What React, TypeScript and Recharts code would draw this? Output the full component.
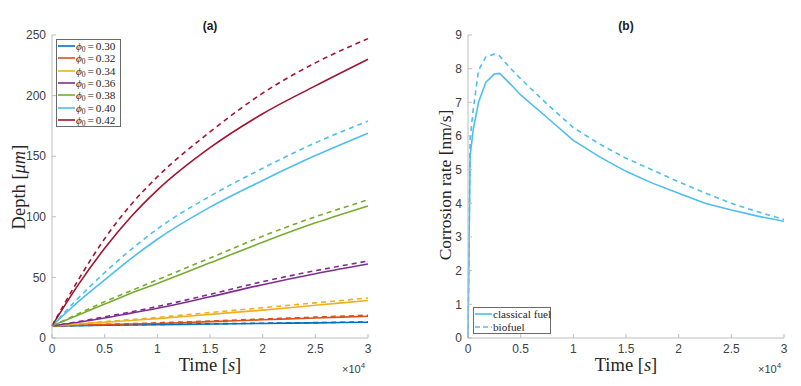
import { LineChart, Line, XAxis, YAxis, Legend, Label } from 'recharts';

// time grid (s) for the depth curves, panel (a)
const TIME_A = [0, 2500, 5000, 7500, 10000, 15000, 20000, 25000, 30000];

const PHI = ['0.30', '0.32', '0.34', '0.36', '0.38', '0.40', '0.42'];
const COLORS = ['#0072BD', '#D95319', '#EDB120', '#7E2F8E', '#77AC30', '#4DBEEE', '#A2142F'];

// depth in µm, solid = classical fuel, dashed = biofuel
const CLASSICAL_DEPTH = [
  [10, 10.25, 10.5, 10.75, 11, 11.5, 12, 12.5, 13],
  [10, 10.5, 11, 11.5, 12, 13.5, 15, 16.5, 18],
  [10, 11.5, 13, 14.5, 16, 19.5, 23, 27, 31],
  [10, 13, 16.5, 20.5, 24.5, 34, 44, 53, 61],
  [10, 19, 28, 37, 45, 62, 79, 95, 109],
  [10, 30, 48, 65.5, 81.5, 108, 130, 150.5, 169],
  [10, 44, 74, 100, 122, 157, 185, 208, 230],
];
const BIOFUEL_DEPTH = [
  [10, 10.3, 10.6, 10.9, 11.2, 11.7, 12.2, 12.7, 13.2],
  [10, 10.6, 11.2, 11.8, 12.5, 14, 15.7, 17.2, 18.8],
  [10, 11.7, 13.5, 15.2, 17, 21, 25, 29, 33],
  [10, 13.5, 17.5, 21.5, 26, 36, 46.5, 55.5, 63.5],
  [10, 20, 30, 39, 48, 66, 84, 100, 114],
  [10, 33, 54, 73, 90, 117, 140, 161, 179],
  [10, 48, 82, 110, 133, 170, 202, 227, 247],
];

// corrosion rate in nm/s, panel (b)
const TIME_B = [0, 200, 500, 1000, 1700, 2500, 3000, 4000, 5000, 7500, 10000, 12500, 15000, 17500, 20000, 22500, 25000, 27500, 30000];
const CLASSICAL_RATE = [0, 5.4, 6.2, 7.0, 7.6, 7.84, 7.86, 7.55, 7.22, 6.55, 5.87, 5.38, 4.95, 4.6, 4.3, 4.0, 3.8, 3.62, 3.47];
const BIOFUEL_RATE = [0, 5.9, 6.8, 7.95, 8.35, 8.43, 8.38, 8.02, 7.7, 6.95, 6.25, 5.76, 5.34, 4.99, 4.64, 4.31, 4.0, 3.75, 3.52];

const X_TICKS = [0, 5000, 10000, 15000, 20000, 25000, 30000];
const DEPTH_TICKS = [0, 50, 100, 150, 200, 250];
const RATE_TICKS = [0, 1, 2, 3, 4, 5, 6, 7, 8, 9];

const AXIS = '#bdbdbd';
const TICK = '#404040';
const SANS = '"Liberation Sans", Arial, sans-serif';
const SERIF = '"Liberation Serif", "DejaVu Serif", serif';

const depthData = TIME_A.map((t, i) => {
  const row: Record<string, number> = { t };
  PHI.forEach((_, k) => {
    row[`c${k}`] = CLASSICAL_DEPTH[k][i];
    row[`b${k}`] = BIOFUEL_DEPTH[k][i];
  });
  return row;
});

const rateData = TIME_B.map((t, i) => ({ t, classical: CLASSICAL_RATE[i], biofuel: BIOFUEL_RATE[i] }));

const fmtTime = (v: number) => String(v / 10000);

const tickStyle = { fill: TICK, fontSize: 12, fontFamily: SANS };

const TimeLabel = ({ cx }: { cx: number }) => (
  <text x={cx} y={371} textAnchor="middle" fontFamily={SERIF} fontSize={18.5} fill="#262626">
    Time [<tspan fontStyle="italic">s</tspan>]
  </text>
);

const Exponent = ({ left }: { left: number }) => (
  <div style={{ position: 'absolute', left, top: 361, fontFamily: SANS, fontSize: 11, color: TICK }}>
    ×10<sup style={{ fontSize: 8 }}>4</sup>
  </div>
);

const Title = ({ cx, text }: { cx: number; text: string }) => (
  <div style={{ position: 'absolute', left: cx - 20, width: 40, top: 19, textAlign: 'center', fontFamily: SANS, fontSize: 12, fontWeight: 'bold', color: '#1a1a1a' }}>
    {text}
  </div>
);

const LegendRow = ({ color, dashed, h, children }: { color: string; dashed?: boolean; h: number; children: React.ReactNode }) => (
  <div style={{ display: 'flex', alignItems: 'center', height: h, whiteSpace: 'nowrap' }}>
    <svg width={17} height={4} style={{ flexShrink: 0 }}>
      <line x1={0} y1={2} x2={17} y2={2} stroke={color} strokeWidth={1.6} strokeDasharray={dashed ? '5 3' : undefined} />
    </svg>
    <span style={{ marginLeft: 1 }}>{children}</span>
  </div>
);

const DepthLegend = () => (
  <div style={{ width: 65, height: 88, boxSizing: 'border-box', border: '1px solid #6a6a6a', background: '#fff', padding: '0px 1px', fontFamily: SERIF, fontSize: 11.2, color: '#262626' }}>
    {PHI.map((p, k) => (
      <LegendRow key={p} color={COLORS[k]} h={12.29}>
        <i>ϕ</i>
        <span style={{ fontSize: 7.5, position: 'relative', top: 2 }}>0</span>
        <span style={{ margin: '0 2px' }}>=</span>{p}
      </LegendRow>
    ))}
  </div>
);

const RateLegend = () => (
  <div style={{ width: 78, height: 27, boxSizing: 'border-box', border: '1px solid #6a6a6a', background: '#fff', padding: '0px 1px', fontFamily: SERIF, fontSize: 11.2, color: '#262626' }}>
    <LegendRow color={COLORS[5]} h={12.5}>classical fuel</LegendRow>
    <LegendRow color={COLORS[5]} h={12.5} dashed>biofuel</LegendRow>
  </div>
);

const DepthChart = () => (
  <LineChart width={400} height={386} data={depthData} margin={{ top: 35, right: 32, bottom: 28, left: 0 }}>
    <XAxis dataKey="t" type="number" domain={[0, 30000]} ticks={X_TICKS} interval={0} tickFormatter={fmtTime}
      height={20} tickSize={-4} tickMargin={10} stroke={AXIS} tick={tickStyle}>
      <Label content={() => <TimeLabel cx={210} />} />
    </XAxis>
    <XAxis xAxisId="top" orientation="top" dataKey="t" type="number" domain={[0, 30000]} ticks={X_TICKS} interval={0}
      height={0} tickSize={-4} stroke={AXIS} tick={false} />
    <YAxis type="number" domain={[0, 250]} ticks={DEPTH_TICKS} interval={0} width={52} tickSize={-4} tickMargin={10}
      stroke={AXIS} tick={tickStyle}>
      <Label content={() => (
        <text x={19} y={187} transform="rotate(-90 19 187)" textAnchor="middle" dominantBaseline="central" fontFamily={SERIF} fontSize={18.5} fill="#262626">
          Depth [<tspan fontStyle="italic">μm</tspan>]
        </text>
      )} />
    </YAxis>
    <YAxis yAxisId="right" orientation="right" type="number" domain={[0, 250]} ticks={DEPTH_TICKS} interval={0} width={0}
      tickSize={-4} stroke={AXIS} tick={false} />
    {PHI.map((p, k) => (
      <Line key={`c${k}`} dataKey={`c${k}`} type="monotone" stroke={COLORS[k]} strokeWidth={1.6} dot={false} isAnimationActive={false} />
    ))}
    {PHI.map((p, k) => (
      <Line key={`b${k}`} dataKey={`b${k}`} type="monotone" stroke={COLORS[k]} strokeWidth={1.6} strokeDasharray="5 4" dot={false} isAnimationActive={false} />
    ))}
    <Legend layout="vertical" align="center" verticalAlign="middle" wrapperStyle={{ left: 56, top: 39, width: 65, height: 88 }} content={() => <DepthLegend />} />
  </LineChart>
);

const RateChart = () => (
  <LineChart width={401} height={386} data={rateData} margin={{ top: 35, right: 17, bottom: 28, left: 0 }}>
    <XAxis dataKey="t" type="number" domain={[0, 30000]} ticks={X_TICKS} interval={0} tickFormatter={fmtTime}
      height={20} tickSize={-4} tickMargin={10} stroke={AXIS} tick={tickStyle}>
      <Label content={() => <TimeLabel cx={226} />} />
    </XAxis>
    <XAxis xAxisId="top" orientation="top" dataKey="t" type="number" domain={[0, 30000]} ticks={X_TICKS} interval={0}
      height={0} tickSize={-4} stroke={AXIS} tick={false} />
    <YAxis type="number" domain={[0, 9]} ticks={RATE_TICKS} interval={0} width={68} tickSize={-4} tickMargin={10}
      stroke={AXIS} tick={tickStyle}>
      <Label content={() => (
        <text x={45} y={185} transform="rotate(-90 45 185)" textAnchor="middle" dominantBaseline="central" fontFamily={SERIF} fontSize={17.5} fill="#262626">
          Corrosion rate [nm/s]
        </text>
      )} />
    </YAxis>
    <YAxis yAxisId="right" orientation="right" type="number" domain={[0, 9]} ticks={RATE_TICKS} interval={0} width={0}
      tickSize={-4} stroke={AXIS} tick={false} />
    <Line dataKey="classical" type="linear" stroke={COLORS[5]} strokeWidth={1.6} dot={false} isAnimationActive={false} />
    <Line dataKey="biofuel" type="linear" stroke={COLORS[5]} strokeWidth={1.6} strokeDasharray="5 4" dot={false} isAnimationActive={false} />
    <Legend layout="vertical" align="center" verticalAlign="middle" wrapperStyle={{ left: 73, top: 307, width: 78, height: 27 }} content={() => <RateLegend />} />
  </LineChart>
);

export default function App() {
  return (
    <div style={{ position: 'absolute', left: 0, top: 0, width: 801, height: 386, background: '#fff', overflow: 'hidden' }}>
      <div style={{ position: 'absolute', left: 0, top: 0 }}>
        <DepthChart />
      </div>
      <div style={{ position: 'absolute', left: 400, top: 0 }}>
        <RateChart />
      </div>
      <Title cx={210} text="(a)" />
      <Title cx={626} text="(b)" />
      <Exponent left={342} />
      <Exponent left={758} />
    </div>
  );
}
